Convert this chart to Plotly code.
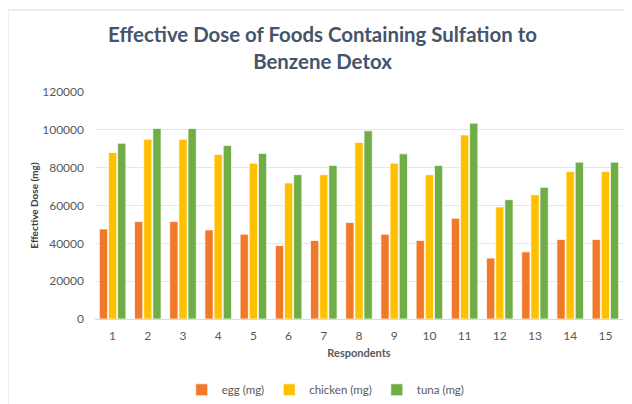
import plotly.graph_objects as go

respondents = [str(i) for i in range(1, 16)]
egg = [47600, 51500, 51500, 47100, 44800, 38800, 41500, 51000, 44800, 41500, 53200, 32200, 35500, 42000, 42000]
chicken = [88000, 95000, 95000, 87000, 82400, 71900, 76300, 93300, 82400, 76300, 97300, 59200, 65700, 78000, 78000]
tuna = [92900, 100700, 100700, 91700, 87500, 76300, 81200, 99500, 87300, 81200, 103500, 63100, 69600, 82900, 82900]

series = [("egg (mg)", egg, "#F07A2A"), ("chicken (mg)", chicken, "#FFC000"), ("tuna (mg)", tuna, "#70AD47")]

fig = go.Figure()
for name, vals, col in series:
    fig.add_trace(go.Bar(x=respondents, y=vals, name=name,
                         marker=dict(color=col, line=dict(color="rgba(255,255,255,0.7)", width=1))))

font = "Lato, 'Open Sans', sans-serif"
fig.update_layout(
    width=632, height=404,
    margin=dict(l=87, r=17, t=84, b=93, autoexpand=False),
    paper_bgcolor="white", plot_bgcolor="white",
    barmode="group", bargap=0.22, bargroupgap=0.1,
    title=dict(text="<b>Effective Dose of Foods Containing Sulfation to<br>Benzene Detox</b>",
               x=0.4976, xanchor="center", y=0.915, yanchor="top",
               font=dict(family=font, size=20.4, color="#44546A")),
    font=dict(family=font, size=11, color="#595959"),
    xaxis=dict(title=dict(text="<b>Respondents</b>", font=dict(size=11, color="#595959"), standoff=6),
               showgrid=False, showline=True, linecolor="#D9D9D9", ticks="", ticklabelstandoff=6,
               tickfont=dict(size=12, color="#595959"), automargin=False),
    yaxis=dict(title=dict(text="<b>Effective Dose (mg)</b>", font=dict(size=10, color="#404040"), standoff=1),
               range=[0, 120000], dtick=20000, tickformat="d", ticklabelstandoff=10,
               showgrid=True, gridcolor="#E3E6EA", gridwidth=1, zeroline=False,
               showline=False, ticks="", tickfont=dict(size=12, color="#595959"), automargin=False),
    legend=dict(orientation="h", x=0.437, xanchor="center", yref="container", y=0.055, yanchor="middle",
                font=dict(size=11.5, color="#595959"), itemwidth=30, traceorder="normal"),
    shapes=[dict(type="rect", xref="paper", yref="paper", x0=-0.165, x1=1.05, y0=-0.5, y1=1.361,
                 line=dict(color="#D9DDE3", width=1), fillcolor="rgba(0,0,0,0)")],
)

fig.write_html("out.html")
